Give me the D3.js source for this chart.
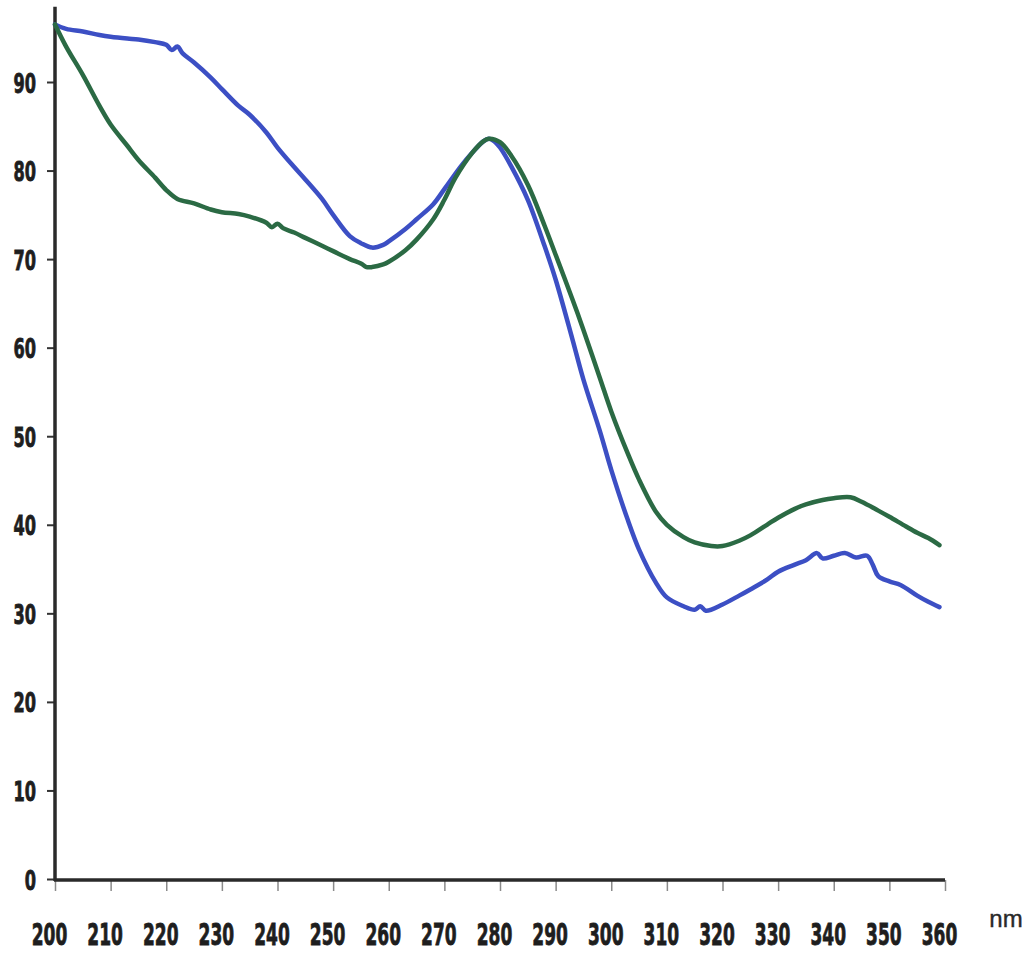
<!DOCTYPE html>
<html><head><meta charset="utf-8">
<script src="https://cdn.jsdelivr.net/npm/d3@7"></script>
<style>html,body{margin:0;padding:0;background:#fff;}svg{display:block;}</style>
</head><body>
<svg id="chart" width="1034" height="953"></svg>
<script>
const xTicks = [200,210,220,230,240,250,260,270,280,290,300,310,320,330,340,350,360];
const yTicks = [0,10,20,30,40,50,60,70,80,90];
const xUnit = "nm";

const blueNm  = [200,202,205,208,210,213,215,218,220,221,222,223,225,228,230,233,235,238,240,243,245,248,250,253,255,257,259,260,263,265,268,270,273,275,277,278,279,280,282,285,288,290,293,295,298,300,303,305,308,310,313,315,316,317,320,323,325,328,330,333,335,337,338,340,342,344,346,347,348,350,352,355,357,359];
const blueVal = [96.5,96.0,95.7,95.3,95.1,94.9,94.8,94.5,94.2,93.6,94.0,93.2,92.2,90.5,89.2,87.3,86.3,84.3,82.6,80.4,79.0,76.8,75.0,72.6,71.8,71.3,71.6,72.0,73.4,74.5,76.2,77.9,80.5,82.0,83.3,83.6,83.3,82.6,80.5,76.7,71.5,67.7,61.0,56.4,50.5,46.2,40.5,37.2,33.5,31.8,30.8,30.4,30.8,30.3,31.0,32.0,32.7,33.8,34.7,35.5,36.0,36.8,36.2,36.5,36.8,36.3,36.5,35.5,34.2,33.6,33.2,32.0,31.3,30.7];

const greenNm  = [200,202,205,208,210,213,215,218,220,222,225,228,230,233,235,238,239,240,241,243,245,248,250,253,255,256,257,259,260,263,265,268,270,272,275,277,278,280,282,285,288,290,293,295,298,300,303,305,308,310,313,315,318,320,323,325,328,330,333,335,338,340,343,345,348,350,353,355,357,359];
const greenVal = [96.5,94.0,90.8,87.3,85.2,82.8,81.2,79.2,77.8,76.8,76.3,75.6,75.3,75.1,74.8,74.1,73.6,74.0,73.5,73.0,72.4,71.5,70.9,70.0,69.5,69.1,69.1,69.4,69.7,71.0,72.2,74.5,76.7,79.2,82.0,83.3,83.6,83.2,81.7,78.4,73.8,70.5,65.5,62.0,56.5,52.8,48.0,45.1,41.5,40.0,38.6,38.0,37.6,37.6,38.2,38.8,40.0,40.8,41.8,42.3,42.8,43.0,43.1,42.6,41.6,40.9,39.8,39.1,38.5,37.7];

const svg = d3.select("#chart");
const x = d3.scaleLinear().domain([200,360]).range([55,945]);
const y = d3.scaleLinear().domain([0,90]).range([879,82]);

const fontLbl = "'DejaVu Sans',sans-serif";
const ySx = 0.6, xSx = 0.55;

// y axis
const yAxis = svg.append("g").attr("transform","translate(55,0)")
  .call(d3.axisLeft(y).tickValues(yTicks).tickSize(8).tickPadding(8).tickFormat(d3.format("d")));
yAxis.select(".domain").remove();
yAxis.selectAll(".tick line").attr("stroke","#333").attr("stroke-width",2);
yAxis.selectAll(".tick text").attr("fill","#1e1e1e").attr("font-family",fontLbl)
  .attr("font-weight","bold").attr("font-size",27).attr("dy","0.37em")
  .attr("stroke","#1e1e1e").attr("stroke-width",0.9)
  .attr("x",-19/ySx).attr("transform",`scale(${ySx},1)`);

// x axis
const xAxis = svg.append("g").attr("transform","translate(0,880)")
  .call(d3.axisBottom(x).tickValues(xTicks).tickSize(11).tickPadding(32).tickFormat(d3.format("d")));
xAxis.select(".domain").remove();
xAxis.selectAll(".tick line").attr("stroke","#8a8a8a").attr("stroke-width",1.5);
xAxis.selectAll(".tick text").attr("fill","#1e1e1e").attr("font-family",fontLbl)
  .attr("font-weight","bold").attr("font-size",31).attr("dy","0.71em")
  .attr("stroke","#1e1e1e").attr("stroke-width",0.9)
  .attr("x",-6/xSx).attr("transform",`scale(${xSx},1)`);

// axis lines
svg.append("line").attr("x1",55).attr("x2",55).attr("y1",y(98.5)).attr("y2",881)
  .attr("stroke","#2a2a2a").attr("stroke-width",3.5);
svg.append("line").attr("x1",54).attr("x2",x(360)).attr("y1",880).attr("y2",880)
  .attr("stroke","#2a2a2a").attr("stroke-width",3.5);

svg.append("text").attr("x",1006).attr("y",927).attr("text-anchor","middle")
  .attr("font-family","'Liberation Sans','Arial',sans-serif").attr("font-size",24)
  .attr("fill","#2a2a2a").attr("stroke","#2a2a2a").attr("stroke-width",0.4).text(xUnit);

const line = d3.line().x(d=>x(d[0])).y(d=>y(d[1])).curve(d3.curveCatmullRom.alpha(0.5));

svg.append("path").datum(blueNm.map((n,i)=>[n,blueVal[i]]))
  .attr("d",line).attr("fill","none").attr("stroke","#3c4fc4").attr("stroke-width",4.5)
  .attr("stroke-linejoin","round").attr("stroke-linecap","round");
svg.append("path").datum(greenNm.map((n,i)=>[n,greenVal[i]]))
  .attr("d",line).attr("fill","none").attr("stroke","#2b6a44").attr("stroke-width",4.5)
  .attr("stroke-linejoin","round").attr("stroke-linecap","round");
</script>
</body></html>
